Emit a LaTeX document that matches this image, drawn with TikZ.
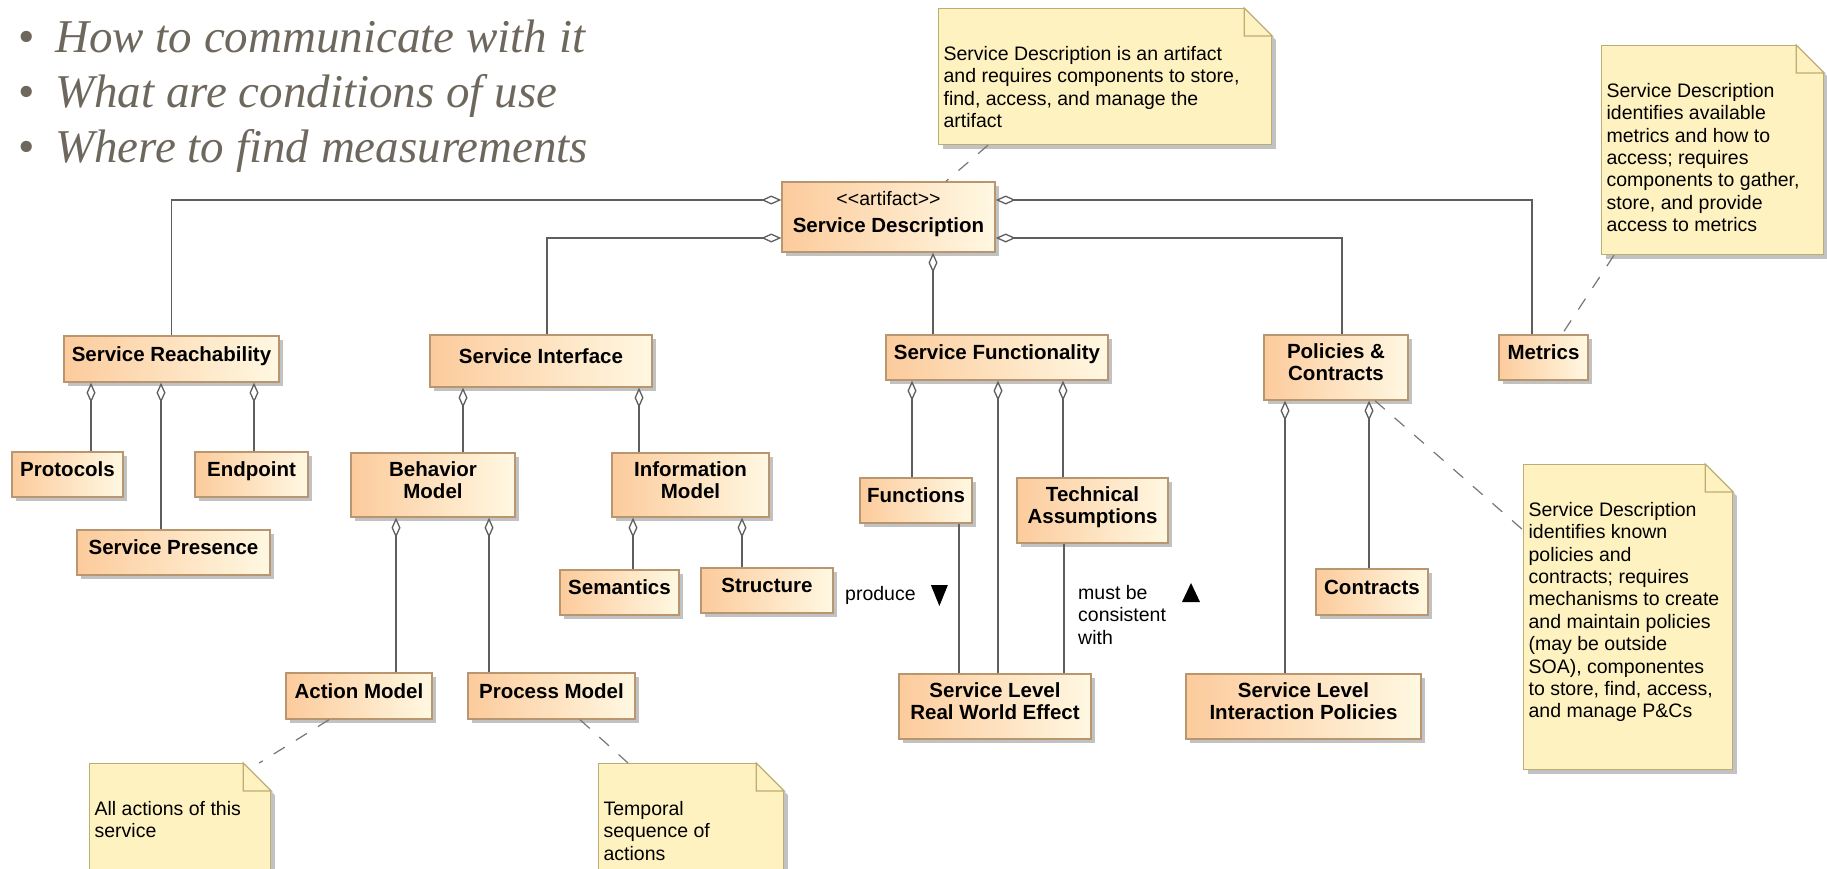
\documentclass[tikz,border=0pt]{standalone}
\usepackage{fontspec}
\setsansfont{Liberation Sans}
\newfontfamily\slidefont{Liberation Serif}
\usetikzlibrary{arrows.meta,shadows}
\newcommand\boxfont{\sffamily\bfseries\fontsize{20.5}{22}\selectfont}
\newcommand\notefont{\sffamily\fontsize{19.5}{22.4}\selectfont}
\newcommand\boxlift{\rule[-10pt]{0pt}{10pt}}
\newcommand\notebody[3]{\parbox[t][#2][t]{#1}{\raggedright\vspace*{36pt}\strut #3}}

\begin{document}
\begin{tikzpicture}[x=1pt,y=-1pt,
  umlbox/.style={draw=bark,line width=1.4pt,left color=peach,right color=cream,inner sep=0pt,
    align=center,font=\boxfont,execute at end node=\boxlift,
    drop shadow={shadow xshift=4pt,shadow yshift=-4pt,fill=black!24,opacity=1}},
  dims/.style 2 args={minimum width=#1pt,minimum height=#2pt},
  note/.style={draw=khaki,line width=1.2pt,fill=memo,anchor=north west,inner xsep=5pt,inner ysep=0pt,
    font=\notefont,drop shadow={shadow xshift=4pt,shadow yshift=-4pt,fill=black!24,opacity=1}},
  agg/.style={draw=wire,line width=1.3pt,-{Diamond[fill=white,length=20pt,width=9pt]}},
  link/.style={draw=wire,line width=1.3pt},
  tie/.style={draw=wire!85,line width=1.2pt,dash pattern=on 13pt off 13pt},
  lbl/.style={inner sep=0pt,font=\notefont}]
\definecolor{peach}{HTML}{FCCB9C}
\definecolor{cream}{HTML}{FFF8E2}
\definecolor{bark}{HTML}{B89670}
\definecolor{memo}{HTML}{FFF2C1}
\definecolor{khaki}{HTML}{BCAE72}
\definecolor{wire}{HTML}{5E5E5E}
\definecolor{slate}{HTML}{6E675D}
\useasboundingbox (0,0) rectangle (1827,869);
\clip (0,0) rectangle (1827,869);

\node[anchor=north west,inner sep=0pt,align=left,text=slate,font=\slidefont\fontsize{47}{55}\selectfont] (goals) at (18,20)
  {\makebox[37pt][l]{\textbullet}\textit{How to communicate with it}\\
   \makebox[37pt][l]{\textbullet}\textit{What are conditions of use}\\
   \makebox[37pt][l]{\textbullet}\textit{Where to find measurements}};

\node[umlbox,dims={213}{70}] (sd) at (888.5,217) {{\mdseries\fontsize{19.5}{22}\selectfont <{}<artifact>{}>}\\[5pt]Service Description};
\node[umlbox,dims={215}{46}] (reach) at (171.5,359) {Service Reachability};
\node[umlbox,dims={222}{52}] (iface) at (541,361) {Service Interface};
\node[umlbox,dims={222}{45}] (func) at (997,357.5) {Service Functionality};
\node[umlbox,dims={144}{65}] (policy) at (1336,367.5) {Policies \&\\Contracts};
\node[umlbox,dims={89}{45}] (metrics) at (1543.5,357.5) {Metrics};
\node[umlbox,dims={111}{45}] (proto) at (67.5,474.5) {Protocols};
\node[umlbox,dims={113}{45}] (endpt) at (251.5,474.5) {Endpoint};
\node[umlbox,dims={193}{45}] (presence) at (173.5,552.5) {Service Presence};
\node[umlbox,dims={164}{64}] (behav) at (433,485) {Behavior\\Model};
\node[umlbox,dims={157}{64}] (info) at (690.5,485) {Information\\Model};
\node[umlbox,dims={119}{45}] (sem) at (619.5,592.5) {Semantics};
\node[umlbox,dims={132}{45}] (struct) at (767,590.5) {Structure};
\node[umlbox,dims={112}{45}] (funcs) at (916,500.5) {Functions};
\node[umlbox,dims={151}{65}] (assum) at (1092.5,510.5) {Technical\\Assumptions};
\node[umlbox,dims={192}{65}] (effect) at (995,706.5) {Service Level\\Real World Effect};
\node[umlbox,dims={146}{46}] (action) at (359,696) {Action Model};
\node[umlbox,dims={167}{46}] (process) at (551.5,696) {Process Model};
\node[umlbox,dims={112}{46}] (contracts) at (1372,592) {Contracts};
\node[umlbox,dims={235}{65}] (interact) at (1303.5,706.5) {Service Level\\Interaction Policies};

\node[note] (sdnote) at (938,8) {\notebody{323pt}{136pt}{Service Description is an artifact\\and requires components to store,\\find, access, and manage the\\artifact}};
\node[note] (metnote) at (1601,45) {\notebody{212pt}{209pt}{Service Description\\identifies available\\metrics and how to\\access; requires\\components to gather,\\store, and provide\\access to metrics}};
\node[note] (pcnote) at (1523,464) {\notebody{199pt}{305pt}{Service Description\\identifies known\\policies and\\contracts; requires\\mechanisms to create\\and maintain policies\\(may be outside\\SOA), componentes\\to store, find, access,\\and manage P\&Cs}};
\node[note] (amnote) at (89,763) {\notebody{171pt}{140pt}{All actions of this\\service}};
\node[note] (pmnote) at (598,763) {\notebody{175pt}{140pt}{Temporal\\sequence of\\actions}};
\foreach \n in {sdnote,metnote,pcnote,amnote,pmnote}
{ \fill[white] ([xshift=-30pt,yshift=2pt]\n.north east) -- ([xshift=6pt,yshift=2pt]\n.north east) -- ([xshift=6pt,yshift=-34pt]\n.north east) -- cycle;
  \draw[khaki,line width=1.2pt,fill=memo] ([xshift=-28pt]\n.north east) -- ([xshift=-28pt,yshift=-28pt]\n.north east) -- ([yshift=-28pt]\n.north east) -- cycle;}

\draw[agg] (reach.north) |- ([yshift=17pt]sd.west);
\draw[agg] ([xshift=6pt]iface.north) |- ([yshift=-21pt]sd.west);
\draw[agg] ([xshift=-11.5pt]metrics.north) |- ([yshift=17pt]sd.east);
\draw[agg] ([xshift=6pt]policy.north) |- ([yshift=-21pt]sd.east);
\foreach \kid/\boss/\dx in {func/sd/-64,proto/reach/23.5,presence/reach/-12.5,endpt/reach/2.5,
  behav/iface/30,info/iface/-51.5,action/behav/37,process/behav/-62.5,sem/info/13.5,struct/info/-25,
  funcs/func/-4,effect/func/3,assum/func/-29.5,interact/policy/-18.5,contracts/policy/-3}
  \draw[agg] ([xshift=\dx pt]\kid.north) coordinate (k) -- (k |- \boss.south);
\draw[link] ([xshift=43pt]funcs.south) coordinate (k) -- (k |- effect.north);
\draw[link] ([xshift=-28.5pt]assum.south) coordinate (k) -- (k |- effect.north);

\node[lbl,anchor=west] (produce) at (845,595) {produce};
\fill ([xshift=15pt,yshift=10pt]produce.east) -- ++(17,0) -- ++(-8.5,21) -- cycle;
\node[lbl,anchor=north west,align=left] (consist) at (1078,585) {must be\\consistent\\with};
\fill ([xshift=104pt,yshift=-17pt]consist.north west) -- ++(18,0) -- ++(-9,-19) -- cycle;

\draw[tie] ([xshift=50pt]sdnote.south west) -- ([xshift=57.5pt]sd.north);
\draw[tie] ([xshift=13pt]metnote.south west) -- ([xshift=18.5pt]metrics.north);
\draw[tie] ([xshift=39pt]policy.south) -- ([yshift=-66pt]pcnote.north west);
\draw[tie] ([xshift=-30pt]action.south) -- ([xshift=-12pt]amnote.north east);
\draw[tie] ([xshift=28.5pt]process.south) -- ([xshift=30pt]pmnote.north west);
\end{tikzpicture}
\end{document}
